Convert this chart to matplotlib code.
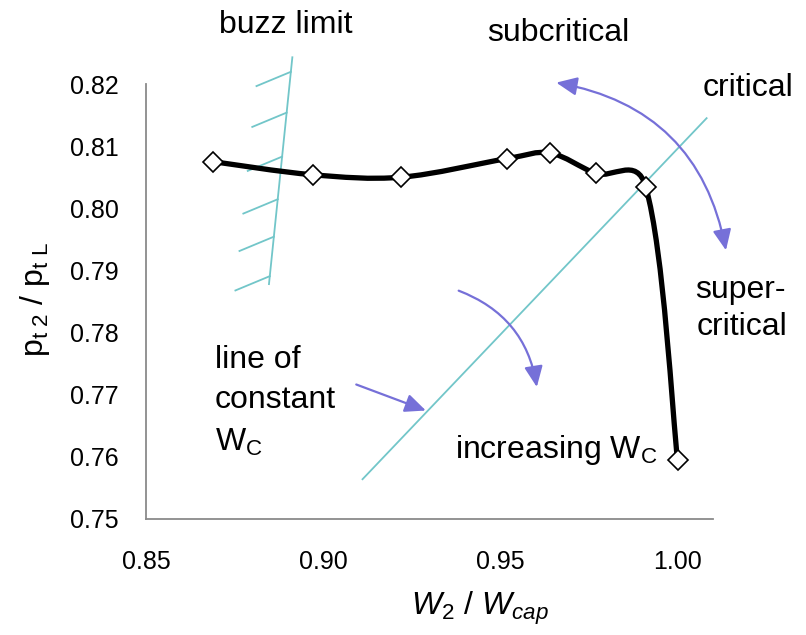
import matplotlib.pyplot as plt
from matplotlib.path import Path
from matplotlib.patches import PathPatch, FancyArrowPatch

plt.rcParams['font.family'] = ['Liberation Sans', 'DejaVu Sans']
plt.rcParams['mathtext.fontset'] = 'custom'
plt.rcParams['mathtext.rm'] = 'Liberation Sans'
plt.rcParams['mathtext.it'] = 'Liberation Sans:italic'

# measured points
w_ratio = [0.869, 0.897, 0.922, 0.952, 0.964, 0.977, 0.991, 1.000]
p_ratio = [0.8075, 0.8054, 0.8050, 0.8080, 0.8089, 0.8056, 0.8035, 0.7595]

# sketch lines
buzz_x = [0.8913, 0.8847]
buzz_y = [0.8243, 0.7878]
hatch_t = [0.064, 0.244, 0.438, 0.626, 0.791, 0.965]
crit_x = [0.9111, 1.0082]
crit_y = [0.7564, 0.8145]

cyan = '#72C6C9'
purple = '#7670D8'

fig = plt.figure(figsize=(8.06, 6.35), dpi=100)
ax = fig.add_axes([146 / 806, 1 - 519 / 635, (713 - 146) / 806, (519 - 84) / 635])
ax.set_xlim(0.85, 1.01)
ax.set_ylim(0.75, 0.82)
ax.set_xticks([0.85, 0.90, 0.95, 1.00])
ax.set_xticklabels(['0.85', '0.90', '0.95', '1.00'])
ax.set_yticks([0.75, 0.76, 0.77, 0.78, 0.79, 0.80, 0.81, 0.82])
ax.set_yticklabels(['0.75', '0.76', '0.77', '0.78', '0.79', '0.80', '0.81', '0.82'])
ax.tick_params(length=0, labelsize=18)
ax.tick_params(axis='x', pad=22)
ax.tick_params(axis='y', pad=19.5)
for s in ['top', 'right']:
    ax.spines[s].set_visible(False)
for s in ['left', 'bottom']:
    ax.spines[s].set_color('#8a8a8a')
    ax.spines[s].set_linewidth(1.3)

# smoothed line, tangents partly weighted by segment length (screen space)
pts = [ax.transData.transform((x, y)) for x, y in zip(w_ratio, p_ratio)]
n = len(pts)
d = [((pts[i + 1][0] - pts[i][0]) ** 2 + (pts[i + 1][1] - pts[i][1]) ** 2) ** 0.5 for i in range(n - 1)]
def tang(i):
    a = pts[i - 1] if i > 0 else pts[i]
    b = pts[i + 1] if i < n - 1 else pts[i]
    return (b[0] - a[0], b[1] - a[1])
verts = [pts[0]]
codes = [Path.MOVETO]
for i in range(n - 1):
    t1 = tang(i)
    t2 = tang(i + 1)
    f1 = (d[i] / (3 * (d[i - 1] + d[i])) + 1 / 6) / 2 if i > 0 else 1 / 6
    f2 = (d[i] / (3 * (d[i] + d[i + 1])) + 1 / 6) / 2 if i + 1 < n - 1 else 1 / 6
    c1 = (pts[i][0] + t1[0] * f1, pts[i][1] + t1[1] * f1)
    c2 = (pts[i + 1][0] - t2[0] * f2, pts[i + 1][1] - t2[1] * f2)
    verts += [c1, c2, pts[i + 1]]
    codes += [Path.CURVE4] * 3
inv = ax.transData.inverted()
verts = [inv.transform(v) for v in verts]
ax.add_patch(PathPatch(Path(verts, codes), fill=False, lw=3.8, color='black',
                       capstyle='round', joinstyle='round', zorder=4))
ax.plot(w_ratio, p_ratio, linestyle='none', marker='D', markersize=10.5,
        markerfacecolor='white', markeredgecolor='black', markeredgewidth=1.2, zorder=5)

# buzz limit with hatching
ax.plot(buzz_x, buzz_y, color=cyan, lw=1.3, clip_on=False, zorder=3)
for t in hatch_t:
    hx = buzz_x[0] + t * (buzz_x[1] - buzz_x[0])
    hy = buzz_y[0] + t * (buzz_y[1] - buzz_y[0])
    ax.plot([hx, hx - 0.0097], [hy, hy - 0.0023], color=cyan, lw=1.3, clip_on=False, zorder=3)

# line of constant Wc
ax.plot(crit_x, crit_y, color=cyan, lw=1.3, clip_on=False, zorder=3)

arr = dict(arrowstyle='-|>,head_length=0.9,head_width=0.4', color=purple, lw=1.6,
           clip_on=False, zorder=3, mutation_scale=14)
a1 = FancyArrowPatch((0.9650, 0.8203), (1.0138, 0.7928),
                     connectionstyle='arc3,rad=-0.35',
                     **dict(arr, arrowstyle='<|-|>,head_length=0.9,head_width=0.4'))
ax.add_patch(a1)
a2 = FancyArrowPatch((0.9375, 0.7869), (0.9604, 0.7708),
                     connectionstyle='arc3,rad=-0.3', **arr)
ax.add_patch(a2)
a3 = FancyArrowPatch((0.9086, 0.7718), (0.9297, 0.7673),
                     connectionstyle='arc3,rad=0', **arr)
ax.add_patch(a3)

fs = 23
fig.text(219 / 806, 1 - 25 / 635, 'buzz limit', fontsize=fs, va='center', ha='left')
fig.text(487 / 806, 1 - 33 / 635, 'subcritical', fontsize=fs, va='center', ha='left')
fig.text(703 / 806, 1 - 88 / 635, 'critical', fontsize=fs, va='center', ha='left')
fig.text(695 / 806, 1 - 290 / 635, 'super-', fontsize=fs, va='center', ha='left')
fig.text(697 / 806, 1 - 327 / 635, 'critical', fontsize=fs, va='center', ha='left')
fig.text(215 / 806, 1 - 360 / 635, 'line of', fontsize=fs, va='center', ha='left')
fig.text(215 / 806, 1 - 400 / 635, 'constant', fontsize=fs, va='center', ha='left')
fig.text(215 / 806, 1 - 442 / 635, r'$\mathregular{W_C}$', fontsize=fs, va='center', ha='left')
fig.text(455 / 806, 1 - 450 / 635, r'increasing $\mathregular{W_C}$', fontsize=fs, va='center', ha='left')

fig.text(35 / 806, 1 - 300 / 635, r'$\mathregular{p_{t\ 2}\ /\ p_{t\ L}}$', fontsize=fs,
         rotation=90, va='center', ha='center')
fig.text(480 / 806, 1 - 608 / 635, r'$\mathit{W_2\ /\ W_{cap}}$', fontsize=fs,
         va='center', ha='center')

fig.savefig('out.png', dpi=100)
